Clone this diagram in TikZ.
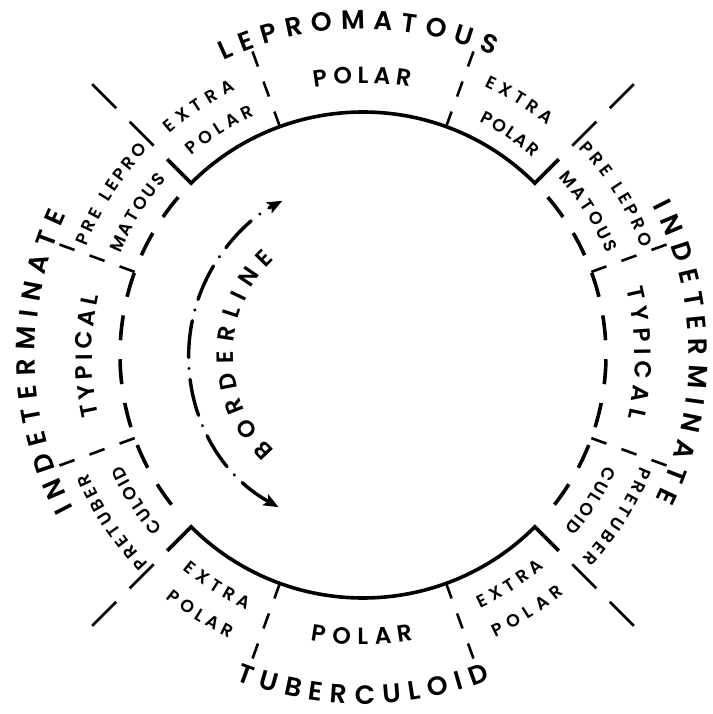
\documentclass[tikz,border=0pt]{standalone}
\usepackage{fontspec}
\newfontfamily\lett{Poppins SemiBold}
\usetikzlibrary{arrows.meta,decorations.text}
\newcommand{\fbig}{\lett\fontsize{26.5}{26.5}\selectfont}
\newcommand{\fmid}{\lett\fontsize{23.5}{23.5}\selectfont}
\newcommand{\fsmall}{\lett\fontsize{17.5}{17.5}\selectfont}
\newcommand{\arclabel}[5]{\path[decorate,decoration={text along path,text align=fit to path,text={|#4|#5}}] (#2:#1) arc[start angle=#2,end angle=#3,radius=#1];}

\begin{document}
\begin{tikzpicture}[x=1pt,y=1pt,>={Stealth[length=15pt,width=12pt,inset=3pt]}]
            \tikzstyle{rim}=[line width=3.6pt]
            \tikzstyle{side}=[line width=3.6pt,dash pattern=on 25pt off 19pt]
            \tikzstyle{major}=[line width=2.8pt,dash pattern=on 34pt off 19pt]
            \tikzstyle{minor}=[line width=2.6pt,dash pattern=on 16pt off 16pt]
            \tikzstyle{borderline}=[line width=3.4pt,line cap=round,dash pattern=on 37pt off 11pt on 0.01pt off 11pt,dash phase=4pt]
            \useasboundingbox (-363,-359) rectangle (349,355);

            \draw[rim] (135:277) -- (135:243) arc[start angle=135,end angle=45,radius=243] -- (45:277);
            \draw[rim] (225:277) -- (225:243) arc[start angle=225,end angle=315,radius=243] -- (315:277);
            \draw[side] (139.5:243) arc[start angle=139.5,end angle=220,radius=243];
            \draw[side] (40.5:243) arc[start angle=40.5,end angle=-40,radius=243];
            \foreach \a in {45,135,225,315} \draw[major] (\a:296) -- (\a:385);
            \foreach \a in {70,110,250,290,160,200,20,-20} \draw[minor] (\a:243) -- (\a:323);

            \draw[borderline,<->] (241:174) arc[start angle=241,end angle=117.6,radius=174];

            \arclabel{326}{115.3}{66.5}{\fbig}{LEPROMATOUS}
            \arclabel{272}{100.2}{80}{\fmid}{POLAR}
            \arclabel{294}{131.1}{115.7}{\fsmall}{EXTRA}
            \arclabel{263}{130.8}{114.4}{\fsmall}{POLAR}
            \arclabel{295}{65.6}{51.2}{\fsmall}{EXTRA}
            \arclabel{261}{63.6}{49.2}{\fsmall}{POLAR}
            \arclabel{297}{158.6}{136.3}{\fsmall}{PRE LEPRO}
            \arclabel{263}{157.4}{138.2}{\fsmall}{MATOUS}
            \arclabel{299}{43.8}{21}{\fsmall}{PRE LEPRO}
            \arclabel{264}{42.2}{22.6}{\fsmall}{MATOUS}
            \arclabel{271}{193}{167.3}{\fmid}{TYPICAL}
            \arclabel{272}{14.1}{-13.3}{\fmid}{TYPICAL}
            \arclabel{328}{208}{154.6}{\fbig}{INDETERMINATE}
            \arclabel{326}{27.3}{-26.3}{\fbig}{INDETERMINATE}
            \arclabel{299}{224.1}{203.2}{\fsmall}{PRETUBER}
            \arclabel{265}{220.8}{204.6}{\fsmall}{CULOID}
            \arclabel{299}{-21.8}{-43}{\fsmall}{PRETUBER}
            \arclabel{266}{-24.5}{-40.7}{\fsmall}{CULOID}
            \arclabel{130}{227}{132.8}{\fmid}{BORDERLINE}
            \arclabel{349}{248.6}{291.4}{\fbig}{TUBERCULOID}
            \arclabel{290}{259.6}{280.1}{\fmid}{POLAR}
            \arclabel{280}{229.9}{245.5}{\fsmall}{EXTRA}
            \arclabel{313}{231}{244.8}{\fsmall}{POLAR}
            \arclabel{279}{294.8}{310.5}{\fsmall}{EXTRA}
            \arclabel{312}{295.1}{310.1}{\fsmall}{POLAR}
        \end{tikzpicture}
\end{document}
